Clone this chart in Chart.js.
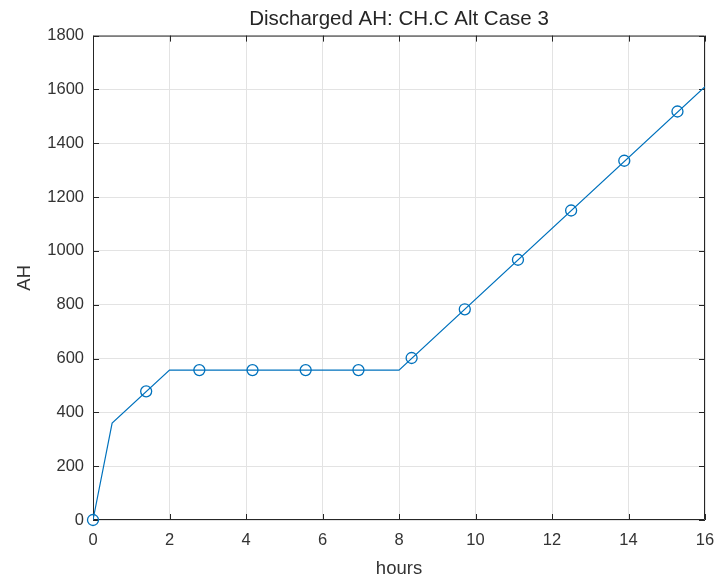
<!DOCTYPE html>
<html>
<head>
<meta charset="utf-8">
<script src="https://cdn.jsdelivr.net/npm/chart.js@4/dist/chart.umd.min.js"></script>
<style>
  html, body { margin: 0; padding: 0; background: #fff; }
  #wrap { width: 723px; height: 580px; }
</style>
</head>
<body>
<div id="wrap"><canvas id="ahChart" width="723" height="580"></canvas></div>
<script>
// line breakpoints (hours, AH)
const lineHours = [0, 0.5, 2, 8, 16];
const lineAH = [0, 360, 557, 557, 1610];

// circle markers along the curve
const markerHours = [0, 1.39, 2.78, 4.17, 5.56, 6.94, 8.33, 9.72, 11.11, 12.5, 13.89, 15.28];
const markerAH = [0, 478, 557, 557, 557, 557, 602, 783, 967, 1150, 1335, 1518];

const xTicks = [0, 2, 4, 6, 8, 10, 12, 14, 16];
const yTicks = [0, 200, 400, 600, 800, 1000, 1200, 1400, 1600, 1800];

const axisColor = "#262626";
const lineColor = "#0072BD";
const fontFamily = "'Liberation Sans', Arial, sans-serif";

// MATLAB style box with inward ticks on all four sides
const boxPlugin = {
    id: "matlabBox",
    beforeDatasetsDraw(chart) {
        const { ctx, chartArea: a, scales } = chart;
        const len = 6;
        ctx.save();
        ctx.strokeStyle = axisColor;
        ctx.lineWidth = 1;
        ctx.beginPath();
        ctx.rect(a.left + 0.5, a.top + 0.5, a.right - a.left - 1, a.bottom - a.top - 1);
        xTicks.forEach(v => {
            const x = Math.round(scales.x.getPixelForValue(v)) + 0.5;
            ctx.moveTo(x, a.bottom);
            ctx.lineTo(x, a.bottom - len);
            ctx.moveTo(x, a.top);
            ctx.lineTo(x, a.top + len);
        });
        yTicks.forEach(v => {
            const y = Math.round(scales.y.getPixelForValue(v)) + 0.5;
            ctx.moveTo(a.left, y);
            ctx.lineTo(a.left + len, y);
            ctx.moveTo(a.right, y);
            ctx.lineTo(a.right - len, y);
        });
        ctx.stroke();
        ctx.restore();
    }
};

const ctx = document.getElementById("ahChart").getContext("2d");

new Chart(ctx, {
    type: "scatter",
    data: {
        datasets: [
            {
                data: lineHours.map((h, i) => ({ x: h, y: lineAH[i] })),
                showLine: true,
                borderColor: lineColor,
                borderWidth: 1.2,
                pointRadius: 0,
                tension: 0
            },
            {
                data: markerHours.map((h, i) => ({ x: h, y: markerAH[i] })),
                showLine: false,
                pointStyle: "circle",
                pointRadius: 5.5,
                pointBorderWidth: 1.3,
                pointBorderColor: lineColor,
                pointBackgroundColor: "rgba(0,0,0,0)",
                clip: false
            }
        ]
    },
    options: {
        responsive: false,
        animation: false,
        layout: { padding: { left: 0, right: 0, top: 0, bottom: 0 } },
        plugins: {
            legend: { display: false },
            tooltip: { enabled: false },
            title: {
                display: true,
                text: "Discharged AH: CH.C Alt Case 3",
                fullSize: false,
                color: axisColor,
                font: { family: fontFamily, size: 20.5, weight: "normal" },
                padding: { top: 7, bottom: 4 }
            }
        },
        scales: {
            x: {
                type: "linear",
                min: 0,
                max: 16,
                afterFit(scale) {
                    scale.height = 60;
                    scale.paddingLeft = 0;
                    scale.paddingRight = 18;
                },
                afterBuildTicks(scale) { scale.ticks = xTicks.map(v => ({ value: v })); },
                grid: { color: "#e3e3e3", drawTicks: false },
                border: { display: false },
                ticks: {
                    color: "#333",
                    padding: 11,
                    maxRotation: 0,
                    font: { family: fontFamily, size: 16.5 },
                    callback: v => String(v)
                },
                title: {
                    display: true,
                    text: "hours",
                    color: "#333",
                    font: { family: fontFamily, size: 18.5 },
                    padding: { top: 0, bottom: 0 }
                }
            },
            y: {
                type: "linear",
                min: 0,
                max: 1800,
                afterFit(scale) { scale.width = 93; },
                afterBuildTicks(scale) { scale.ticks = yTicks.map(v => ({ value: v })); },
                grid: { color: "#e3e3e3", drawTicks: false },
                border: { display: false },
                ticks: {
                    color: "#333",
                    padding: 9,
                    font: { family: fontFamily, size: 16.5 },
                    callback: v => String(v)
                },
                title: {
                    display: true,
                    text: "AH",
                    color: "#333",
                    font: { family: fontFamily, size: 18.5 },
                    padding: { top: 14, bottom: 0 }
                }
            }
        }
    },
    plugins: [boxPlugin]
});
</script>
</body>
</html>
